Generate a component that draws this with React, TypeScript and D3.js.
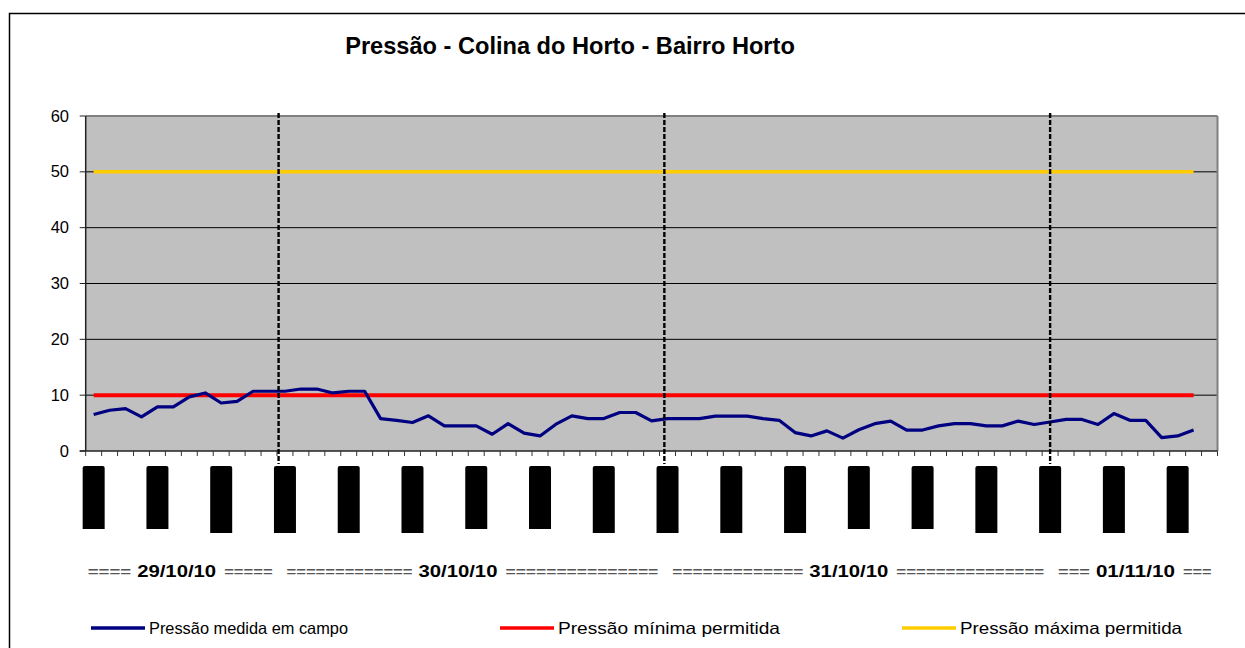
import React from "react";
import * as d3 from "d3";

// ---- data ----
const pressureMeasured: number[] = [
  6.55, 7.3, 7.6, 6.1, 7.9, 7.9, 9.7, 10.4, 8.6, 8.9,
  10.7, 10.7, 10.7, 11.1, 11.1, 10.4, 10.7, 10.7, 5.8, 5.5,
  5.1, 6.3, 4.5, 4.5, 4.5, 3.0, 4.9, 3.2, 2.7, 4.8,
  6.3, 5.8, 5.8, 6.9, 6.9, 5.4, 5.8, 5.8, 5.8, 6.25,
  6.25, 6.25, 5.8, 5.5, 3.3, 2.7, 3.6, 2.3, 3.8, 4.9,
  5.35, 3.75, 3.75, 4.5, 4.9, 4.9, 4.5, 4.5, 5.35, 4.75,
  5.2, 5.65, 5.65, 4.75, 6.7, 5.5, 5.5, 2.4, 2.7, 3.75,
];
const pressureMin = 10;
const pressureMax = 50;
const categoryCount = 71; // 70 readings + 1 empty slot
const hourLabels: string[] = [
  "2:00", "6:00", "10:00", "14:00", "18:00", "22:00",
  "2:00", "6:00", "10:00", "14:00", "18:00", "22:00",
  "2:00", "6:00", "10:00", "14:00", "18:00", "22:00",
];
const hourLabelStep = 4;
const dayLabels: string[] = ["29/10/10", "30/10/10", "31/10/10", "01/11/10"];
const dayBoundaries: number[] = [0, 12.1, 36.3, 60.5, 71];
const yTicks: number[] = [0, 10, 20, 30, 40, 50, 60];
const seriesNames: string[] = [
  "Pressão medida em campo",
  "Pressão mínima permitida",
  "Pressão máxima permitida",
];
const title = "Pressão - Colina do Horto - Bairro Horto";

const FONT = "'Liberation Sans', Arial, Helvetica, sans-serif";
const W = 1245;
const H = 648;

export default function App() {
  const left = 85.7;
  const right = 1217.5;
  const top = 116;
  const bottom = 451;

  const xLin = d3.scaleLinear().domain([0, categoryCount]).range([left, right]);
  const xc = (i: number) => xLin(i + 0.5);
  const y = d3.scaleLinear().domain([0, 60]).range([bottom, top]);

  const line = d3
    .line<number>()
    .x((_, i) => xc(i))
    .y((d) => y(d));

  const minSeries = pressureMeasured.map(() => pressureMin);
  const maxSeries = pressureMeasured.map(() => pressureMax);

  const colors = ["#000080", "#FF0000", "#FFCC00"];

  // legend layout
  const legendX = [91, 500, 902];
  const legendTextW = [199, 222, 222];
  const legendY = 628;

  // day label row layout
  const dateTextW = 79;
  const dayRowY = 577;
  const dayCenterShift = [5.5, 13.5, 8.4, -1.6];

  return (
    <div style={{ position: "fixed", left: 0, top: 0, width: W, height: H, background: "#fff" }}>
      <svg width={W} height={H} style={{ display: "block" }} fontFamily={FONT}>
        <rect x={0} y={0} width={W} height={H} fill="#fff" />
        {/* outer frame */}
        <rect x={9.5} y={13.5} width={W + 20} height={H + 20} fill="none" stroke="#000" strokeWidth={1.5} />

        {/* title */}
        <text x={570} y={54} textAnchor="middle" fontSize={23.6} fontWeight="bold" fill="#000">
          {title}
        </text>

        {/* plot background */}
        <rect x={left} y={top} width={right - left} height={bottom - top} fill="#C0C0C0" />

        {/* gridlines */}
        {yTicks.filter((t) => t > 0 && t < 60).map((t) => (
          <line key={"g" + t} x1={left} x2={right} y1={y(t)} y2={y(t)} stroke="#000" strokeWidth={1} />
        ))}

        {/* plot border top/right */}
        <line x1={left} x2={right} y1={top} y2={top} stroke="#808080" strokeWidth={2} />
        <line x1={right} x2={right} y1={top} y2={bottom} stroke="#808080" strokeWidth={2} />

        {/* y axis */}
        <line x1={left} x2={left} y1={top} y2={bottom} stroke="#222" strokeWidth={1.5} />
        {yTicks.map((t) => (
          <g key={"yt" + t}>
            <line x1={left - 6} x2={left} y1={y(t)} y2={y(t)} stroke="#222" strokeWidth={1} />
            <text x={69} y={y(t) + 5.5} textAnchor="end" fontSize={16.5} fill="#000">
              {t}
            </text>
          </g>
        ))}

        {/* x axis */}
        <line x1={left - 6} x2={right} y1={bottom} y2={bottom} stroke="#222" strokeWidth={1.5} />
        {d3.range(categoryCount + 1).map((i) => (
          <line key={"xt" + i} x1={xLin(i)} x2={xLin(i)} y1={bottom} y2={bottom + 5} stroke="#333" strokeWidth={1} />
        ))}

        {/* series */}
        <path d={line(maxSeries) || ""} fill="none" stroke={colors[2]} strokeWidth={3.5} />
        <path d={line(minSeries) || ""} fill="none" stroke={colors[1]} strokeWidth={4} />
        <path d={line(pressureMeasured) || ""} fill="none" stroke={colors[0]} strokeWidth={3.2} strokeLinejoin="round" />

        {/* day separators */}
        {dayBoundaries.slice(1, -1).map((b, i) => (
          <line key={"ds" + i} x1={xLin(b)} x2={xLin(b)} y1={113} y2={464} stroke="#000" strokeWidth={2.4} strokeDasharray="5,2" />
        ))}

        {/* hour labels (rendered as solid blocks, as in the source) */}
        {hourLabels.map((lab, k) => {
          const cx = xc(k * hourLabelStep);
          const h = lab.length > 4 ? 67 : 63;
          const w = 22;
          const x0 = cx - w / 2;
          const y0 = 466;
          const r = 2;
          const d = `M${x0},${y0 + h} L${x0},${y0 + r} Q${x0},${y0} ${x0 + r},${y0} L${x0 + w - r},${y0} Q${x0 + w},${y0} ${x0 + w},${y0 + r} L${x0 + w},${y0 + h} Z`;
          return (
            <path key={"hl" + k} d={d} fill="#000">
              <title>{lab}</title>
            </path>
          );
        })}

        {/* day labels row */}
        {dayLabels.map((lab, i) => {
          const s = xLin(dayBoundaries[i]);
          const e = xLin(dayBoundaries[i + 1]);
          const c = (s + e) / 2 - dayCenterShift[i];
          const lx0 = s + (i === 0 ? 2 : 8);
          const lx1 = c - dateTextW / 2 - 6;
          const rx0 = c + dateTextW / 2 + 8;
          const rx1 = e - 6;
          const nL = Math.max(1, Math.round((lx1 - lx0) / 10));
          const nR = Math.max(1, Math.round((rx1 - rx0) / 10));
          return (
            <g key={"day" + i}>
              <text x={lx0} y={dayRowY - 1} fontSize={13} fontWeight="bold" fill="#555" textLength={lx1 - lx0} lengthAdjust="spacingAndGlyphs">
                {"=".repeat(nL)}
              </text>
              <text x={c} y={dayRowY} textAnchor="middle" fontSize={16.5} fontWeight="bold" fill="#000" textLength={dateTextW} lengthAdjust="spacingAndGlyphs">
                {lab}
              </text>
              <text x={rx0} y={dayRowY - 1} fontSize={13} fontWeight="bold" fill="#555" textLength={rx1 - rx0} lengthAdjust="spacingAndGlyphs">
                {"=".repeat(nR)}
              </text>
            </g>
          );
        })}

        {/* legend */}
        {seriesNames.map((name, i) => (
          <g key={"lg" + i}>
            <line x1={legendX[i]} x2={legendX[i] + 54} y1={legendY} y2={legendY} stroke={colors[i]} strokeWidth={3.5} />
            <text x={legendX[i] + 58} y={legendY + 6} fontSize={16.5} fill="#000" textLength={legendTextW[i]} lengthAdjust="spacingAndGlyphs">
              {name}
            </text>
          </g>
        ))}
      </svg>
    </div>
  );
}
